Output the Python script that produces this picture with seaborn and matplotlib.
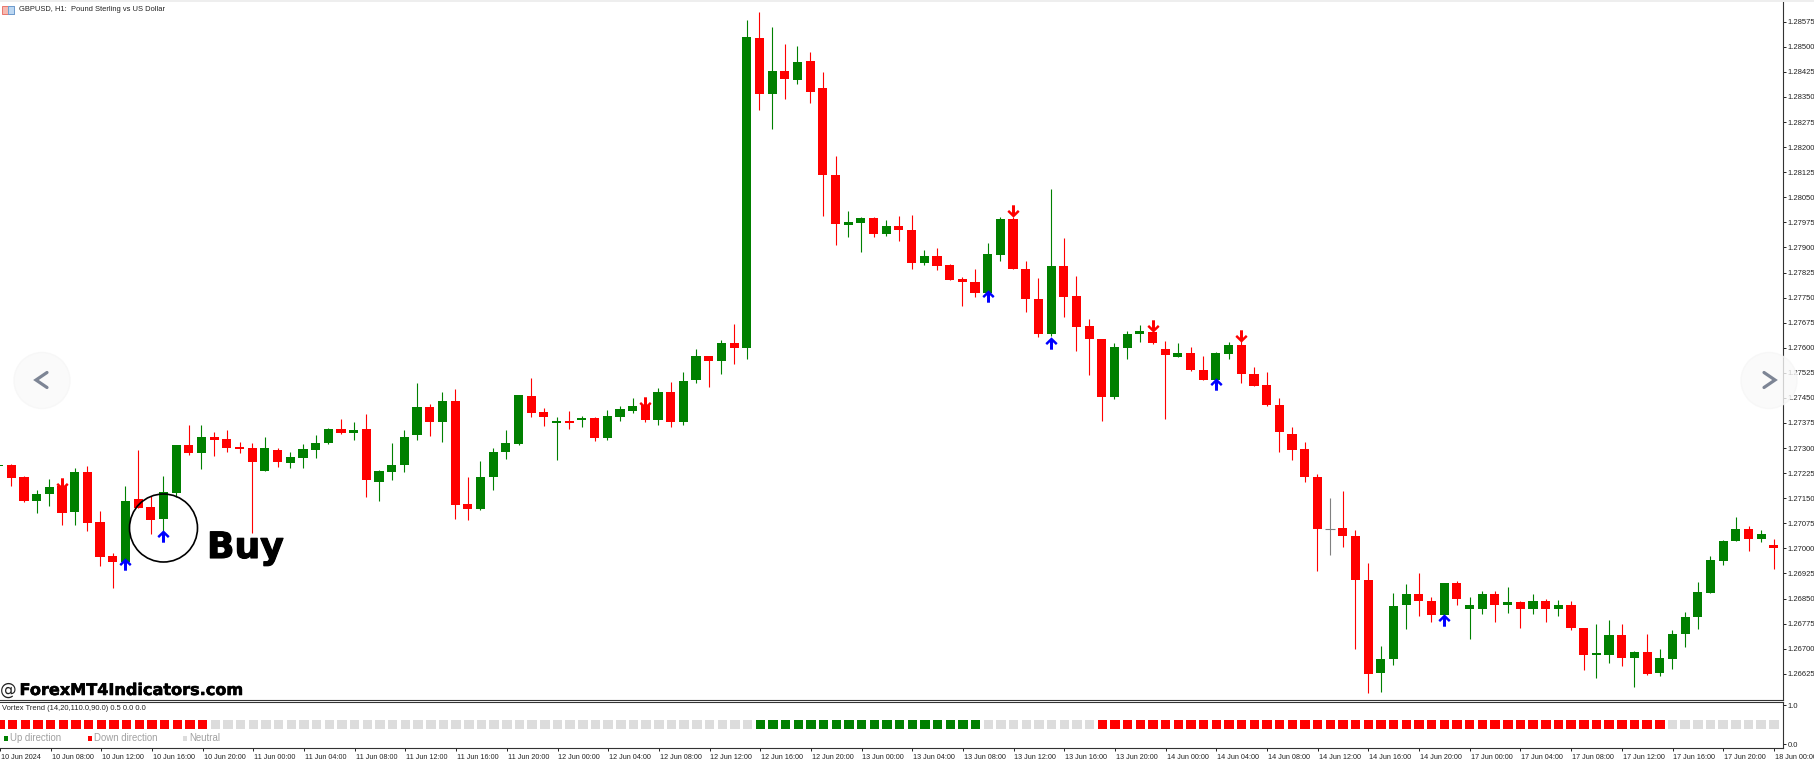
import matplotlib
matplotlib.use('Agg')
import matplotlib.pyplot as plt
import matplotlib.patheffects as pe
from matplotlib.patches import Circle, Rectangle
from matplotlib.path import Path
import numpy as np
import pandas as pd
import seaborn as sns

# GBPUSD H1 candles, 10 Jun 04:00 to 18 Jun 00:00
opens = [
    1.27245, 1.27249, 1.27214, 1.27141, 1.27162, 1.27187, 1.27109, 1.27228, 1.27078, 1.26976,
    1.26960, 1.27147, 1.27123, 1.27089, 1.27167, 1.27308, 1.27285, 1.27334, 1.27327, 1.27302,
    1.27301, 1.27231, 1.27294, 1.27255, 1.27271, 1.27294, 1.27315, 1.27356, 1.27344, 1.27357,
    1.27198, 1.27229, 1.27248, 1.27338, 1.27422, 1.27378, 1.27441, 1.27133, 1.27119, 1.27212,
    1.27287, 1.27313, 1.27456, 1.27408, 1.27375, 1.27382, 1.27383, 1.27391, 1.27330, 1.27394,
    1.27411, 1.27429, 1.27384, 1.27468, 1.27377, 1.27503, 1.27575, 1.27561, 1.27614, 1.27600,
    1.28527, 1.28358, 1.28428, 1.28401, 1.28457, 1.28378, 1.28117, 1.27968, 1.27973, 1.27989,
    1.27940, 1.27965, 1.27953, 1.27852, 1.27874, 1.27846, 1.27805, 1.27797, 1.27763, 1.27878,
    1.27984, 1.27834, 1.27747, 1.27641, 1.27845, 1.27755, 1.27664, 1.27627, 1.27452, 1.27599,
    1.27640, 1.27648, 1.27596, 1.27573, 1.27584, 1.27534, 1.27504, 1.27580, 1.27608, 1.27522,
    1.27488, 1.27429, 1.27341, 1.27296, 1.27214, 1.27059, 1.27060, 1.27038, 1.26905, 1.26628,
    1.26668, 1.26830, 1.26865, 1.26843, 1.26802, 1.26896, 1.26820, 1.26820, 1.26865, 1.26832,
    1.26841, 1.26820, 1.26844, 1.26820, 1.26832, 1.26761, 1.26680, 1.26682, 1.26741, 1.26673,
    1.26691, 1.26626, 1.26670, 1.26744, 1.26794, 1.26868, 1.26963, 1.27022, 1.27059, 1.27029,
    1.27009,
]
highs = [
    1.27255, 1.27253, 1.27217, 1.27175, 1.27207, 1.27202, 1.27240, 1.27245, 1.27112, 1.26985,
    1.27187, 1.27294, 1.27157, 1.27217, 1.27308, 1.27368, 1.27368, 1.27348, 1.27354, 1.27318,
    1.27316, 1.27332, 1.27299, 1.27288, 1.27313, 1.27339, 1.27360, 1.27387, 1.27377, 1.27401,
    1.27234, 1.27316, 1.27353, 1.27494, 1.27432, 1.27468, 1.27477, 1.27214, 1.27261, 1.27301,
    1.27354, 1.27459, 1.27510, 1.27420, 1.27394, 1.27411, 1.27396, 1.27392, 1.27413, 1.27425,
    1.27449, 1.27449, 1.27480, 1.27498, 1.27528, 1.27595, 1.27576, 1.27623, 1.27671, 1.28580,
    1.28603, 1.28558, 1.28508, 1.28502, 1.28483, 1.28424, 1.28174, 1.28009, 1.27991, 1.27990,
    1.27982, 1.27994, 1.27997, 1.27892, 1.27898, 1.27849, 1.27811, 1.27835, 1.27913, 1.27990,
    1.27992, 1.27859, 1.27808, 1.28075, 1.27928, 1.27815, 1.27685, 1.27627, 1.27613, 1.27650,
    1.27669, 1.27654, 1.27620, 1.27615, 1.27601, 1.27575, 1.27586, 1.27618, 1.27619, 1.27542,
    1.27528, 1.27449, 1.27363, 1.27318, 1.27223, 1.27150, 1.27172, 1.27054, 1.26957, 1.26708,
    1.26866, 1.26894, 1.26925, 1.26854, 1.26896, 1.26901, 1.26856, 1.26873, 1.26873, 1.26885,
    1.26843, 1.26865, 1.26849, 1.26846, 1.26842, 1.26761, 1.26775, 1.26785, 1.26775, 1.26694,
    1.26744, 1.26699, 1.26755, 1.26810, 1.26899, 1.26978, 1.27025, 1.27093, 1.27067, 1.27055,
    1.27028,
]
lows = [
    1.27240, 1.27187, 1.27139, 1.27105, 1.27126, 1.27069, 1.27069, 1.27053, 1.26948, 1.26880,
    1.26950, 1.27120, 1.27043, 1.27050, 1.27155, 1.27278, 1.27238, 1.27277, 1.27287, 1.27286,
    1.27047, 1.27231, 1.27242, 1.27240, 1.27240, 1.27271, 1.27311, 1.27342, 1.27325, 1.27154,
    1.27141, 1.27205, 1.27227, 1.27325, 1.27336, 1.27318, 1.27089, 1.27085, 1.27114, 1.27175,
    1.27266, 1.27308, 1.27392, 1.27366, 1.27263, 1.27356, 1.27364, 1.27322, 1.27325, 1.27380,
    1.27406, 1.27379, 1.27370, 1.27364, 1.27368, 1.27496, 1.27484, 1.27520, 1.27552, 1.27567,
    1.28312, 1.28255, 1.28343, 1.28388, 1.28331, 1.27994, 1.27906, 1.27932, 1.27885, 1.27932,
    1.27934, 1.27920, 1.27835, 1.27847, 1.27832, 1.27802, 1.27726, 1.27753, 1.27758, 1.27859,
    1.27834, 1.27707, 1.27633, 1.27634, 1.27691, 1.27589, 1.27518, 1.27382, 1.27447, 1.27566,
    1.27618, 1.27611, 1.27388, 1.27572, 1.27529, 1.27503, 1.27502, 1.27566, 1.27494, 1.27485,
    1.27427, 1.27288, 1.27265, 1.27197, 1.26931, 1.26980, 1.27005, 1.26699, 1.26567, 1.26569,
    1.26651, 1.26760, 1.26798, 1.26780, 1.26801, 1.26830, 1.26729, 1.26804, 1.26780, 1.26807,
    1.26763, 1.26803, 1.26781, 1.26798, 1.26756, 1.26637, 1.26611, 1.26658, 1.26648, 1.26585,
    1.26621, 1.26617, 1.26640, 1.26705, 1.26758, 1.26868, 1.26949, 1.27021, 1.26992, 1.27019,
    1.26939,
]
closes = [
    1.27250, 1.27210, 1.27141, 1.27163, 1.27185, 1.27107, 1.27228, 1.27077, 1.26975, 1.26960,
    1.27142, 1.27122, 1.27084, 1.27169, 1.27308, 1.27284, 1.27334, 1.27325, 1.27301, 1.27298,
    1.27257, 1.27301, 1.27257, 1.27273, 1.27296, 1.27315, 1.27358, 1.27344, 1.27355, 1.27203,
    1.27230, 1.27249, 1.27334, 1.27424, 1.27378, 1.27441, 1.27129, 1.27117, 1.27214, 1.27289,
    1.27315, 1.27458, 1.27406, 1.27394, 1.27380, 1.27375, 1.27391, 1.27330, 1.27396, 1.27416,
    1.27427, 1.27384, 1.27468, 1.27378, 1.27501, 1.27574, 1.27561, 1.27614, 1.27600, 1.28530,
    1.28358, 1.28428, 1.28403, 1.28455, 1.28365, 1.28116, 1.27969, 1.27975, 1.27989, 1.27939,
    1.27965, 1.27951, 1.27852, 1.27874, 1.27845, 1.27803, 1.27798, 1.27763, 1.27880, 1.27984,
    1.27835, 1.27746, 1.27641, 1.27845, 1.27753, 1.27663, 1.27625, 1.27452, 1.27601, 1.27642,
    1.27650, 1.27615, 1.27578, 1.27583, 1.27532, 1.27504, 1.27584, 1.27608, 1.27521, 1.27487,
    1.27430, 1.27349, 1.27294, 1.27214, 1.27058, 1.27059, 1.27036, 1.26904, 1.26624, 1.26670,
    1.26829, 1.26865, 1.26842, 1.26802, 1.26896, 1.26850, 1.26832, 1.26863, 1.26832, 1.26841,
    1.26820, 1.26844, 1.26820, 1.26832, 1.26763, 1.26680, 1.26686, 1.26741, 1.26673, 1.26691,
    1.26625, 1.26672, 1.26744, 1.26794, 1.26870, 1.26965, 1.27023, 1.27059, 1.27029, 1.27043,
    1.27002,
]

# signal arrows
up_idx = [10, 13, 78, 83, 96, 114]
up_price = [1.26952, 1.27036, 1.27756, 1.27614, 1.27493, 1.26787]
down_idx = [5, 51, 80, 91, 98]
down_price = [1.27192, 1.27436, 1.28008, 1.27664, 1.27635]

# Vortex Trend indicator, as runs of one state
run_states = ['Down', 'Neutral', 'Up', 'Neutral', 'Down', 'Neutral']
run_lengths = [17, 43, 18, 9, 45, 9]

price_ticks = [
    1.26625, 1.26700, 1.26775, 1.26850, 1.26925, 1.27000, 1.27075, 1.27150, 1.27225,
    1.27300, 1.27375, 1.27450, 1.27525, 1.27600, 1.27675, 1.27750, 1.27825, 1.27900,
    1.27975, 1.28050, 1.28125, 1.28200, 1.28275, 1.28350, 1.28425, 1.28500, 1.28575,
]
time_labels = [
    '10 Jun 2024', '10 Jun 08:00', '10 Jun 12:00', '10 Jun 16:00', '10 Jun 20:00',
    '11 Jun 00:00', '11 Jun 04:00', '11 Jun 08:00', '11 Jun 12:00', '11 Jun 16:00', '11 Jun 20:00',
    '12 Jun 00:00', '12 Jun 04:00', '12 Jun 08:00', '12 Jun 12:00', '12 Jun 16:00', '12 Jun 20:00',
    '13 Jun 00:00', '13 Jun 04:00', '13 Jun 08:00', '13 Jun 12:00', '13 Jun 16:00', '13 Jun 20:00',
    '14 Jun 00:00', '14 Jun 04:00', '14 Jun 08:00', '14 Jun 12:00', '14 Jun 16:00', '14 Jun 20:00',
    '17 Jun 00:00', '17 Jun 04:00', '17 Jun 08:00', '17 Jun 12:00', '17 Jun 16:00', '17 Jun 20:00',
    '18 Jun 00:00',
]

RED = '#ff0000'
GREEN = '#008000'
DARK = '#222222'
W, H = 1815, 760

sns.set_theme(style='white')
plt.rcParams['font.family'] = ['Liberation Sans', 'DejaVu Sans']

candles = pd.DataFrame({'open': opens, 'high': highs, 'low': lows, 'close': closes})
candles['i'] = np.arange(len(candles))
candles['color'] = np.where(candles['close'] > candles['open'], GREEN,
                            np.where(candles['close'] < candles['open'], RED, '#808080'))

fig = plt.figure(figsize=(W / 100, H / 100), dpi=100, facecolor='white')
ax = fig.add_axes([0, (H - 699.5) / H, 1783 / W, (699.5 - 2) / H])
ax_ind = fig.add_axes([0, (H - 748) / H, 1783 / W, (748 - 701.5) / H])

# candles
ax.vlines(candles['i'], candles['low'], candles['high'], colors=candles['color'], linewidth=0.8)
body_low = candles[['open', 'close']].min(axis=1)
body_size = (candles['close'] - candles['open']).abs()
ax.bar(candles['i'], body_size, bottom=body_low, width=0.72, color=candles['color'], linewidth=0)
doji = candles[candles['open'] == candles['close']]
ax.hlines(doji['open'], doji['i'] - 0.36, doji['i'] + 0.36, colors=doji['color'], linewidth=0.8)

# arrows
up_verts = [(-0.24, -1), (0.24, -1), (0.24, 0.2), (0.72, -0.25), (0.98, 0.05), (0, 1),
            (-0.98, 0.05), (-0.72, -0.25), (-0.24, 0.2), (-0.24, -1)]
up_marker = Path(up_verts, closed=True)
down_marker = Path([(x, -y) for x, y in up_verts], closed=True)
sns.scatterplot(x=up_idx, y=up_price, marker=up_marker, s=80, color='#0000ff', linewidth=0, ax=ax, zorder=5)
sns.scatterplot(x=down_idx, y=down_price, marker=down_marker, s=80, color=RED, linewidth=0, ax=ax, zorder=5)

ax.set_xlim(0.11, 140.72)
ax.set_ylim(1.26548, 1.28634)
ax.set_xticks([])
ax.yaxis.tick_right()
ax.set_yticks(price_ticks)
ax.set_yticklabels([f'{p:.5f}' for p in price_ticks], fontsize=5.5, color=DARK)
ax.tick_params(axis='y', right=True, length=2.2, width=0.7, color=DARK, pad=1)

# indicator panel
states = np.repeat(run_states, run_lengths)
ind = pd.DataFrame({'i': np.arange(len(states)), 'v': 0.5, 'state': states})
sns.scatterplot(data=ind, x='i', y='v', hue='state', marker='s', s=46, linewidth=0, legend=False,
                palette={'Up': GREEN, 'Down': RED, 'Neutral': '#dcdcdc'}, ax=ax_ind)
ax_ind.set_xlim(0.11, 140.72)
ax_ind.set_ylim(-0.094, 1.09)
ax_ind.set_xlabel('')
ax_ind.set_ylabel('')
ax_ind.yaxis.tick_right()
ax_ind.set_yticks([0.0, 1.0])
ax_ind.set_yticklabels(['0.0', '1.0'], fontsize=5.5, color=DARK)
ax_ind.tick_params(axis='y', right=True, length=2.2, width=0.7, color=DARK, pad=1)
tick_pos = np.arange(0, len(candles), 4)
ax_ind.set_xticks(tick_pos)
ax_ind.set_xticklabels([])
ax_ind.tick_params(axis='x', bottom=True, length=2.2, width=0.7, color=DARK)
for pos, label in zip(tick_pos, time_labels):
    ax_ind.annotate(label, xy=(pos, 0), xycoords=ax_ind.get_xaxis_transform(), xytext=(0.6, -4.2),
                    textcoords='offset points', fontsize=5.2, color=DARK, ha='left', va='top',
                    annotation_clip=False)

for a in (ax, ax_ind):
    for side, spine in a.spines.items():
        spine.set_color('#333333')
        spine.set_linewidth(0.8)
        spine.set_visible(side in ('right', 'bottom') or (a is ax_ind and side == 'top'))

# overlay in pixel coordinates: title, watermark, buy circle, nav buttons
over = fig.add_axes([0, 0, 1, 1], zorder=10)
over.set_xlim(0, W)
over.set_ylim(H, 0)
over.axis('off')
over.patch.set_alpha(0)

over.add_patch(Rectangle((0, 0), W, 2, color='#eeeeee', linewidth=0))
over.add_patch(Rectangle((2.5, 5.5), 11.5, 8.5, facecolor='#f6b9b0', edgecolor='#e8655a', linewidth=0.6))
over.add_patch(Rectangle((8.5, 5.5), 5.5, 8.5, facecolor='#bcd7f2', edgecolor='#5b9bd5', linewidth=0.6))
over.text(19, 9.5, 'GBPUSD, H1:  Pound Sterling vs US Dollar', fontsize=5.45, color='#222222', va='center')

over.text(2, 708.5, 'Vortex Trend (14,20,110.0,90.0) 0.5 0.0 0.0', fontsize=5.4, color='#222222', va='center')
for x, col, label in [(6, GREEN, 'Up direction'), (90, RED, 'Down direction'), (185, '#dcdcdc', 'Neutral')]:
    over.add_patch(Rectangle((x - 2, 736), 4.5, 4.5, color=col, linewidth=0))
    over.text(x + 4.5, 738.2, label, fontsize=6.9, color='#a0a0a0', va='center')

over.add_patch(Circle((163.5, 528), 34, fill=False, edgecolor='black', linewidth=1.2))
heavy = [pe.withStroke(linewidth=0.8, foreground='black')]
over.text(207, 558, 'Buy', fontsize=26, fontweight='bold', family='DejaVu Sans', color='black',
          va='baseline', path_effects=heavy)
over.text(0, 695, '@', fontsize=12, family='DejaVu Sans', color='#222222', va='baseline')
over.text(19.5, 695, 'ForexMT4Indicators.com', fontsize=11.6, fontweight='bold', family='DejaVu Sans',
          color='black', va='baseline', path_effects=[pe.withStroke(linewidth=0.4, foreground='black')])

for cx, sign in [(42, -1), (1769, 1)]:
    over.add_patch(Circle((cx, 380.5), 28, facecolor='#f9f9f9', edgecolor='#f6f6f6', linewidth=1, alpha=0.8))
    over.plot([cx - sign * 5, cx + sign * 6, cx - sign * 5], [372.5, 380, 387.5], color='#7d8595',
              linewidth=2.3, solid_capstyle='round', solid_joinstyle='miter')

fig.savefig('out.png', dpi=100)
plt.close(fig)
